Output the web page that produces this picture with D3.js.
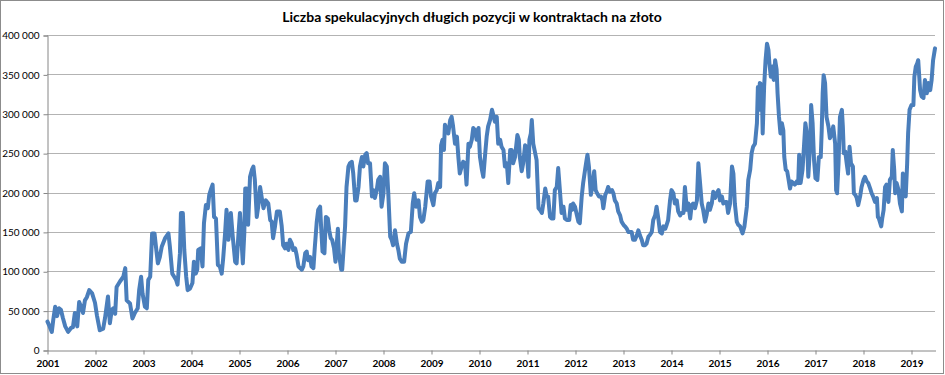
<!DOCTYPE html>
<html><head><meta charset="utf-8">
<script src="https://cdn.jsdelivr.net/npm/d3@7/dist/d3.min.js"></script>
<style>
body{margin:0;background:#fff}
svg{display:block}
text{font-family:Lato,"Open Sans","Liberation Sans",sans-serif;fill:#000}
</style>
</head><body>
<svg id="chart" width="945" height="375"></svg>
<script>
const chartTitle = "Liczba spekulacyjnych długich pozycji w kontraktach na złoto";
const yTickValues = [0, 50000, 100000, 150000, 200000, 250000, 300000, 350000, 400000];
const xTickYears = [2001,2002,2003,2004,2005,2006,2007,2008,2009,2010,2011,2012,2013,2014,2015,2016,2017,2018,2019];

// decimal year of each observation
const dates = [
2001.01,2001.04,2001.10,2001.13,2001.17,2001.21,2001.25,2001.29,2001.33,2001.38,2001.44,2001.50,2001.54,2001.58,2001.63,2001.67,2001.71,2001.75,2001.79,2001.83,2001.88,2001.94,
2002.00,2002.04,2002.10,2002.17,2002.21,2002.27,2002.31,2002.35,2002.38,2002.42,2002.45,2002.52,2002.59,2002.63,2002.66,2002.73,2002.78,2002.83,2002.89,2002.92,2002.96,2002.99,
2003.04,2003.08,2003.11,2003.15,2003.19,2003.24,2003.27,2003.31,2003.35,2003.39,2003.46,2003.53,2003.56,2003.61,2003.65,2003.69,2003.72,2003.77,2003.79,2003.83,2003.86,2003.90,2003.93,2003.98,
2004.03,2004.06,2004.10,2004.13,2004.15,2004.20,2004.24,2004.27,2004.31,2004.35,2004.38,2004.42,2004.45,2004.48,2004.52,2004.56,2004.60,2004.64,2004.67,2004.71,2004.74,2004.78,2004.83,2004.87,2004.92,2004.95,2004.99,
2005.02,2005.06,2005.08,2005.11,2005.13,2005.16,2005.19,2005.23,2005.27,2005.30,2005.33,2005.37,2005.40,2005.44,2005.47,2005.51,2005.56,2005.61,2005.65,2005.68,2005.71,2005.75,2005.79,2005.85,2005.89,2005.92,2005.96,2005.99,
2006.03,2006.06,2006.10,2006.13,2006.17,2006.20,2006.24,2006.31,2006.34,2006.38,2006.41,2006.44,2006.48,2006.51,2006.55,2006.58,2006.62,2006.65,2006.69,2006.71,2006.74,2006.78,2006.81,2006.85,2006.88,2006.91,2006.94,2006.98,
2007.01,2007.06,2007.08,2007.13,2007.15,2007.21,2007.24,2007.28,2007.31,2007.35,2007.38,2007.42,2007.45,2007.49,2007.52,2007.56,2007.59,2007.63,2007.66,2007.69,2007.73,2007.77,2007.80,2007.83,2007.87,2007.90,2007.94,2007.97,
2008.01,2008.04,2008.08,2008.11,2008.15,2008.18,2008.21,2008.25,2008.29,2008.32,2008.35,2008.39,2008.44,2008.48,2008.53,2008.58,2008.62,2008.65,2008.69,2008.74,2008.77,2008.81,2008.84,2008.88,2008.93,2008.97,
2009.00,2009.05,2009.08,2009.12,2009.15,2009.19,2009.21,2009.24,2009.27,2009.29,2009.33,2009.36,2009.40,2009.43,2009.46,2009.50,2009.54,2009.57,2009.60,2009.64,2009.67,2009.71,2009.74,2009.78,2009.81,2009.85,2009.88,2009.92,2009.95,2009.99,
2010.02,2010.06,2010.09,2010.13,2010.16,2010.19,2010.23,2010.27,2010.30,2010.33,2010.37,2010.40,2010.44,2010.47,2010.51,2010.54,2010.58,2010.61,2010.65,2010.68,2010.71,2010.75,2010.80,2010.83,2010.85,2010.89,2010.92,2010.96,2010.99,
2011.03,2011.05,2011.08,2011.10,2011.13,2011.17,2011.20,2011.24,2011.27,2011.31,2011.34,2011.38,2011.41,2011.44,2011.48,2011.51,2011.55,2011.58,2011.62,2011.65,2011.69,2011.72,2011.76,2011.79,2011.83,2011.88,2011.91,2011.94,2011.96,
2012.00,2012.04,2012.07,2012.10,2012.14,2012.17,2012.21,2012.24,2012.26,2012.29,2012.33,2012.36,2012.40,2012.43,2012.46,2012.50,2012.54,2012.57,2012.59,2012.63,2012.66,2012.69,2012.73,2012.77,2012.80,2012.83,2012.87,2012.90,2012.94,2012.97,
2013.01,2013.04,2013.08,2013.11,2013.18,2013.21,2013.25,2013.29,2013.32,2013.35,2013.39,2013.42,2013.46,2013.49,2013.53,2013.56,2013.60,2013.63,2013.67,2013.70,2013.74,2013.77,2013.81,2013.84,2013.88,2013.91,2013.94,2013.98,
2014.01,2014.05,2014.08,2014.12,2014.15,2014.19,2014.22,2014.26,2014.29,2014.33,2014.36,2014.40,2014.43,2014.46,2014.50,2014.54,2014.57,2014.60,2014.64,2014.67,2014.71,2014.74,2014.78,2014.81,2014.85,2014.88,2014.92,2014.95,2014.99,
2015.02,2015.06,2015.09,2015.13,2015.16,2015.19,2015.23,2015.27,2015.30,2015.33,2015.37,2015.40,2015.44,2015.49,2015.53,2015.58,2015.61,2015.65,2015.68,2015.71,2015.75,2015.79,2015.81,2015.83,2015.85,2015.89,2015.91,2015.94,2015.97,
2016.00,2016.03,2016.05,2016.08,2016.11,2016.14,2016.17,2016.20,2016.22,2016.25,2016.28,2016.31,2016.34,2016.36,2016.39,2016.42,2016.44,2016.48,2016.51,2016.55,2016.58,2016.62,2016.65,2016.67,2016.70,2016.74,2016.77,2016.80,2016.83,2016.86,2016.90,2016.92,2016.95,2016.98,
2017.01,2017.05,2017.08,2017.12,2017.14,2017.16,2017.18,2017.21,2017.24,2017.28,2017.31,2017.35,2017.38,2017.42,2017.44,2017.46,2017.49,2017.52,2017.56,2017.58,2017.60,2017.63,2017.66,2017.69,2017.72,2017.75,2017.79,2017.81,2017.84,2017.87,2017.90,2017.94,2017.97,
2018.01,2018.04,2018.08,2018.11,2018.15,2018.18,2018.21,2018.25,2018.29,2018.31,2018.33,2018.38,2018.40,2018.43,2018.46,2018.49,2018.53,2018.56,2018.60,2018.62,2018.65,2018.67,2018.70,2018.74,2018.77,2018.81,2018.83,2018.86,2018.89,2018.92,2018.94,2018.97,
2019.01,2019.05,2019.07,2019.10,2019.13,2019.15,2019.19,2019.22,2019.26,2019.29,2019.33,2019.36,2019.40,2019.43,2019.46,2019.50
];

// speculative long positions, thousands of contracts
const longPositionsK = [
36,32,23,38,55,43,53,51,41,30,23,28,29,47,30,61,55,47,63,67,76,72,
60,44,25,27,41,68,34,51,53,46,80,87,93,104,63,59,40,47,53,76,93,72,
55,53,89,93,148,148,131,110,118,131,142,148,131,97,93,89,83,123,174,174,127,93,76,78,
85,112,97,102,127,129,106,161,184,180,197,205,210,169,167,108,106,97,116,148,178,140,174,144,112,110,148,
174,131,110,148,205,205,159,220,229,233,216,169,182,207,195,180,190,186,165,163,142,157,176,176,157,133,129,135,
127,140,135,127,129,121,106,102,106,123,125,114,118,106,104,131,163,178,182,157,125,123,169,167,152,142,140,129,
112,154,123,102,102,157,207,233,237,239,224,190,190,207,233,245,233,248,250,237,237,195,203,193,203,216,220,182,
199,237,233,199,144,140,133,152,135,127,116,112,112,135,148,150,186,199,182,190,169,163,165,182,214,214,
195,184,199,203,212,207,260,267,254,286,279,275,292,296,284,262,271,245,224,233,239,237,210,262,258,267,282,279,267,282,
245,229,220,250,271,284,292,305,298,290,296,262,267,258,254,233,237,212,254,254,237,245,273,267,245,227,237,260,258,
220,267,275,292,262,250,241,180,178,174,186,205,195,195,169,167,167,203,207,231,199,174,182,167,165,165,184,178,186,
182,171,163,161,195,212,229,241,248,233,197,207,227,203,199,195,195,190,180,197,201,207,201,203,199,190,186,176,171,163,
159,157,154,150,150,140,140,146,152,146,140,133,133,135,144,146,150,165,171,182,165,150,148,157,154,159,165,190,
203,199,186,190,176,171,174,174,207,178,186,167,184,186,180,190,237,216,186,178,163,171,186,178,186,201,193,199,203,
190,195,186,188,188,174,186,233,224,186,163,159,157,148,157,182,216,229,250,258,262,288,334,305,339,337,275,334,368,
389,381,364,347,360,343,368,356,326,296,275,288,279,245,229,227,220,205,214,212,210,214,212,248,212,229,258,288,275,220,262,311,288,241,
218,216,245,245,279,326,349,339,296,284,269,275,284,262,203,199,237,296,305,284,250,252,237,224,258,237,233,199,197,193,184,195,207,
216,220,214,212,205,199,195,188,193,169,167,157,167,178,207,210,188,216,220,254,229,199,212,203,186,176,224,220,195,237,275,305,
311,311,347,360,364,368,330,322,320,343,326,339,330,343,368,383
];

const data = dates.map((d, i) => ({date: d, value: longPositionsK[i] * 1000}));

const svg = d3.select("#chart");
const W = 945, H = 375;

// outer chart border
svg.append("rect").attr("x", 0.5).attr("y", 0.5).attr("width", W - 2).attr("height", H - 2)
  .attr("fill", "#fff").attr("stroke", "#8c8c8c").attr("stroke-width", 1);

const x = d3.scaleLinear().domain([2001, 2019.5]).range([47, 935]);
const y = d3.scaleLinear().domain([0, 400000]).range([350, 35]);

const fmt = v => d3.format(",")(v).replace(/,/g, " ");

// title
svg.append("text").attr("x", 472).attr("y", 22).attr("text-anchor", "middle")
  .attr("font-size", 14).attr("font-weight", "bold").text(chartTitle);

// gridlines
svg.append("g").selectAll("line").data(yTickValues.filter(v => v > 0)).join("line")
  .attr("x1", x.range()[0]).attr("x2", x.range()[1])
  .attr("y1", d => Math.round(y(d)) + 0.5).attr("y2", d => Math.round(y(d)) + 0.5)
  .attr("stroke", "#b3b3b3").attr("stroke-width", 1);

// y axis
const yAxis = d3.axisLeft(y).tickValues(yTickValues).tickFormat(fmt).tickSize(4).tickPadding(4);
const gy = svg.append("g").attr("transform", `translate(${x.range()[0] + 0.5},0.5)`).call(yAxis);
gy.select(".domain").attr("stroke", "#868686");
gy.selectAll(".tick line").attr("stroke", "#868686");
gy.selectAll(".tick text").attr("font-size", 10).attr("fill", "#000")
  .style("font-family", "Lato, 'Open Sans', sans-serif");

// x axis
const xAxis = d3.axisBottom(x).tickValues(xTickYears).tickFormat(d3.format("d")).tickSize(4).tickSizeOuter(0).tickPadding(5);
const gx = svg.append("g").attr("transform", `translate(0.5,${y(0) + 0.5})`).call(xAxis);
gx.select(".domain").attr("stroke", "#868686");
gx.selectAll(".tick line").attr("stroke", "#868686");
gx.selectAll(".tick text").attr("font-size", 10).attr("font-weight", "bold").attr("fill", "#000")
  .style("font-family", "Lato, 'Open Sans', sans-serif");

// line
const line = d3.line().x(d => x(d.date)).y(d => y(d.value)).curve(d3.curveLinear);
svg.append("path").datum(data).attr("d", line)
  .attr("fill", "none").attr("stroke", "#4a7ebb").attr("stroke-width", 4)
  .attr("stroke-linejoin", "round").attr("stroke-linecap", "round");
</script>
</body></html>
